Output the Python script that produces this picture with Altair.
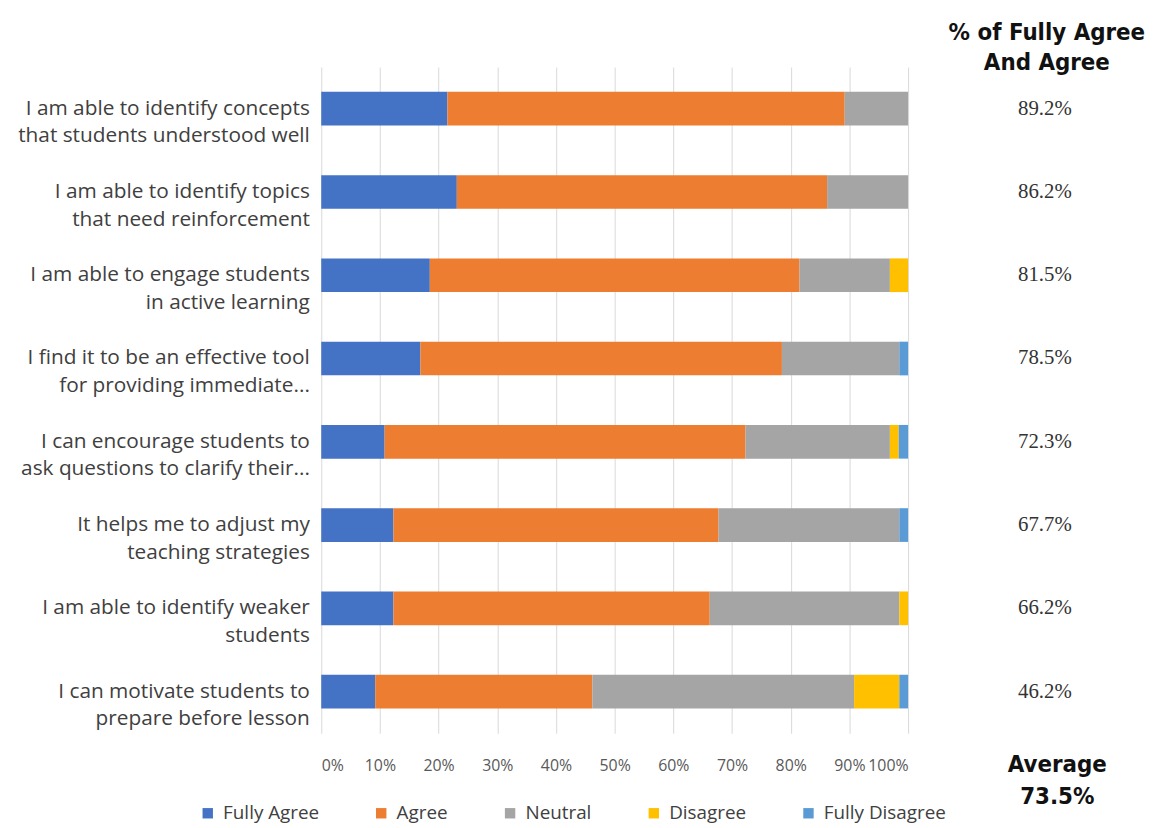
import altair as alt
import pandas as pd

statements = [
    "I am able to identify concepts|that students understood well",
    "I am able to identify topics|that need reinforcement",
    "I am able to engage students|in active learning",
    "I find it to be an effective tool|for providing immediate...",
    "I can encourage students to|ask questions to clarify their...",
    "It helps me to adjust my|teaching strategies",
    "I am able to identify weaker|students",
    "I can motivate students to|prepare before lesson",
]
responses = ["Fully Agree", "Agree", "Neutral", "Disagree", "Fully Disagree"]
fully_agree = [21.5, 23.1, 18.5, 16.9, 10.8, 12.3, 12.3, 9.2]
agree = [67.7, 63.1, 63.0, 61.6, 61.5, 55.4, 53.9, 37.0]
neutral = [10.8, 13.8, 15.4, 20.0, 24.6, 30.8, 32.3, 44.6]
disagree = [0.0, 0.0, 3.1, 0.0, 1.5, 0.0, 1.5, 7.7]
fully_disagree = [0.0, 0.0, 0.0, 1.5, 1.6, 1.5, 0.0, 1.5]
average_top2 = 73.5
colors = ["#4472C4", "#ED7D31", "#A5A5A5", "#FFC000", "#5B9BD5"]
x_ticks = [0, 0.1, 0.2, 0.3, 0.4, 0.5, 0.6, 0.7, 0.8, 0.9, 1.0]

series = [fully_agree, agree, neutral, disagree, fully_disagree]
rows = []
for si, (name, vals) in enumerate(zip(responses, series)):
    for st, v in zip(statements, vals):
        rows.append({"statement": st, "response": name, "order": si, "value": v})
df = pd.DataFrame(rows)

top_rows = []
for st, fa, a in zip(statements, fully_agree, agree):
    top_rows.append({"statement": st, "col": "c", "label": f"{fa + a:.1f}%"})
df_top = pd.DataFrame(top_rows)

H = 672
label_font = "Open Sans"
header_font = "Liberation Sans Narrow, DejaVu Sans Condensed, Arial"

yscale = alt.Scale(paddingInner=0, paddingOuter=0)

bars = alt.Chart(df).mark_bar(size=34).encode(
    x=alt.X(
        "value:Q",
        stack="normalize",
        scale=alt.Scale(domain=[0, 1]),
        axis=alt.Axis(
            title=None, values=x_ticks, format=".0%", ticks=False, domain=False,
            grid=True, gridColor="#D9D9D9", labelFont=label_font, labelFontSize=16,
            labelColor="#595959", labelPadding=25, labelOverlap=False,
        ),
    ),
    y=alt.Y(
        "statement:N", sort=statements, scale=yscale,
        axis=alt.Axis(
            title=None, ticks=False, domain=False, labelExpr="split(datum.label, '|')",
            labelFont=label_font, labelFontSize=21, labelColor="#404040",
            labelLineHeight=28, labelPadding=12, labelLimit=400,
        ),
    ),
    color=alt.Color(
        "response:N",
        scale=alt.Scale(domain=responses, range=colors),
        legend=alt.Legend(
            title=None, orient="none", direction="horizontal", legendX=-124, legendY=743,
            symbolType="square", symbolSize=110, symbolStrokeWidth=0,
            labelFont=label_font, labelFontSize=19, labelColor="#404040",
            columnPadding=53, labelOffset=6,
        ),
    ),
    order=alt.Order("order:Q"),
).properties(
    width=592, height=H,
    title=alt.TitleParams([" ", " "], fontSize=24, lineHeight=30, offset=-8),
)

right = alt.Chart(df_top).mark_text(
    font="Liberation Serif", fontSize=21, color="#333333", dx=2
).encode(
    y=alt.Y("statement:N", sort=statements, scale=yscale, axis=None),
    x=alt.X(
        "col:N",
        axis=alt.Axis(
            title=["Average", "73.5%"], labels=False, ticks=False, domain=False,
            titleFont=header_font, titleFontSize=24, titleFontWeight="bold",
            titleColor="#111111", titlePadding=20, titleLineHeight=32, titleX=79,
        ),
    ),
    text="label:N",
).properties(
    width=130, height=H,
    title=alt.TitleParams(
        ["% of Fully Agree", "And Agree"], font=header_font, fontSize=24,
        fontWeight="bold", color="#111111", lineHeight=30, offset=-8, anchor="middle",
        dx=4,
    ),
)

chart = alt.hconcat(bars, right, spacing=40).properties(
    padding={"left": 9, "top": 10, "right": 0, "bottom": 0}
).configure_view(stroke=None)

chart.save("out.html", embed_options={"renderer": "svg", "actions": False})
